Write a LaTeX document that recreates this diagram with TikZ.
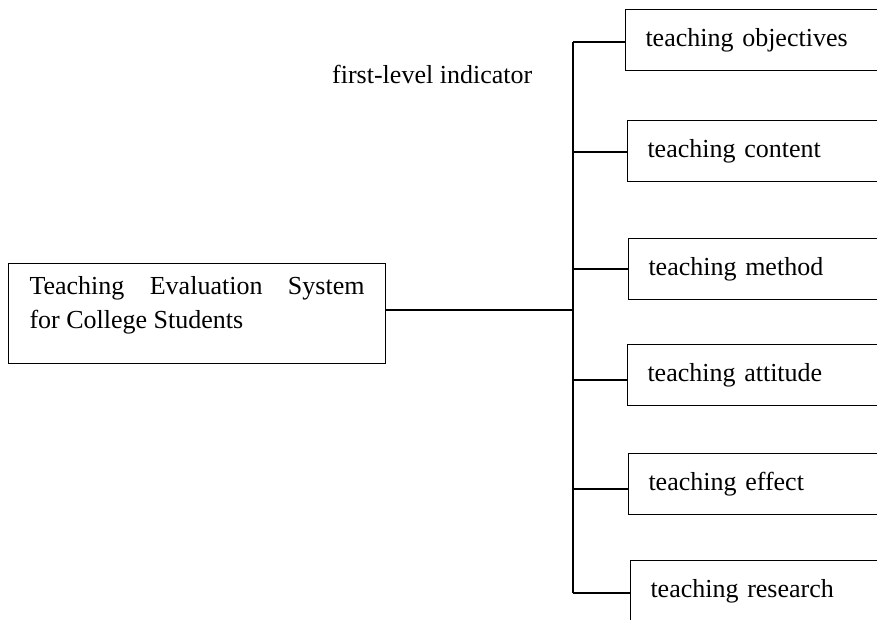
\documentclass[tikz,border=0pt]{standalone}
\usepackage{fontspec}
\setmainfont{Liberation Serif}
\usetikzlibrary{positioning}

\begin{document}
\begin{tikzpicture}[x=1pt, y=-1pt, font=\fontsize{26}{34}\selectfont,
    item/.style={draw, line width=1pt, rectangle, anchor=north west, minimum height=61pt, text width=240pt, inner xsep=20pt, inner ysep=0pt, align=left},
    root/.style={draw, line width=1pt, rectangle, anchor=north west, text width=335pt, inner xsep=21pt, inner ysep=13.2pt, text depth=55.8pt, align=justify},
    link/.style={line width=1.5pt}]
        \useasboundingbox (0,0) rectangle (877,619);
        \clip (0,0) rectangle (877,619);

        \node[root] (sys) at (8,263) {\hbadness=10000 Teaching Evaluation System\linebreak for College Students};
        \node[inner sep=0pt, anchor=base west] (lvl) at (332,83) {first-level indicator};

        \node[item] (obj) at (625,9) {teaching objectives};
        \node[item] (con) at (627,120) {teaching content};
        \node[item] (met) at (628,238) {teaching method};
        \node[item] (att) at (627,344) {teaching attitude};
        \node[item] (eff) at (628,453) {teaching effect};
        \node[item] (res) at (630,560) {teaching research};

        \coordinate (hub) at (573,310);

          \draw[link] (sys.east |- hub) -- (hub);
          \draw[link] ([yshift=-2pt]obj.west -| hub) -- ([yshift=-2pt]res.west -| hub);
          \foreach \n/\dy in {obj/2,con/1,met/0,att/5,eff/5,res/2}
            \draw[link] ([yshift=-\dy pt]\n.west -| hub) -- ([yshift=-\dy pt]\n.west);
\end{tikzpicture}
\end{document}
